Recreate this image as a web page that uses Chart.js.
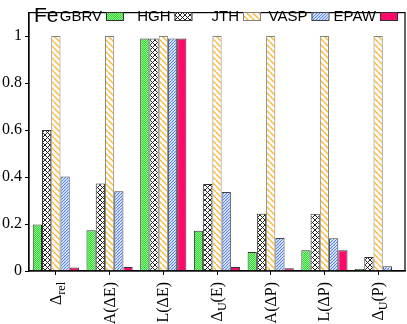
<!DOCTYPE html>
<html>
<head>
<meta charset="utf-8">
<script src="https://cdn.jsdelivr.net/npm/chart.js@4/dist/chart.umd.min.js"></script>
<style>
  html, body { margin: 0; padding: 0; background: #fff; }
  canvas { display: block; }
</style>
</head>
<body>
<canvas id="chart" width="407" height="324"></canvas>
<script>
// categories ("_xx" marks a subscript)
const categories = ['Δ_rel', 'A(ΔE)', 'L(ΔE)', 'Δ_U(E)', 'A(ΔP)', 'L(ΔP)', 'Δ_U(P)'];
const seriesNames = ['GBRV', 'HGH', 'JTH', 'VASP', 'EPAW'];

// values
const gbrv = [0.198, 0.174, 0.99, 0.171, 0.081, 0.088, 0.009];
const hgh  = [0.600, 0.373, 0.99, 0.370, 0.244, 0.244, 0.060];
const jth  = [1, 1, 1, 1, 1, 1, 1];
const vasp = [0.402, 0.340, 0.99, 0.336, 0.141, 0.139, 0.020];
const epaw = [0.015, 0.017, 0.99, 0.017, 0.012, 0.088, null];

const yTicks = [0, 0.2, 0.4, 0.6, 0.8, 1];

// ================================
// hatch patterns
// ================================
function makePattern(size, draw) {
    const c = document.createElement('canvas');
    c.width = size; c.height = size;
    const g = c.getContext('2d');
    draw(g, size);
    return g.createPattern(c, 'repeat');
}

function hatch(bg, color, s, dirs, lw) {
    return makePattern(s, function (g) {
        g.fillStyle = bg;
        g.fillRect(0, 0, s, s);
        g.strokeStyle = color;
        g.lineWidth = lw;
        g.beginPath();
        for (let k = -1; k <= 1; k++) {
            if (dirs.includes('\\')) { g.moveTo(k * s, 0); g.lineTo(k * s + s, s); }
            if (dirs.includes('/')) { g.moveTo(k * s, s); g.lineTo(k * s + s, 0); }
        }
        g.stroke();
    });
}

const greenDots = makePattern(2, function (g) {
    g.fillStyle = '#2ed82e';
    g.fillRect(0, 0, 2, 2);
    g.fillStyle = '#90f790';
    g.fillRect(0, 0, 1, 1);
    g.fillRect(1, 1, 1, 1);
});
const crossHatch = hatch('#ffffff', '#222222', 5, '\\/', 1);
const orangeHatch = hatch('#ffffff', '#ffb733', 6, '\\', 1.4);
const blueHatch = hatch('#ffffff', '#4f7ff0', 3, '/', 1.2);

const fills = [greenDots, crossHatch, orangeHatch, blueHatch, '#ff0a6a'];
const borders = ['#333333', '#333333', '#808080', '#444444', '#333333'];
const seriesValues = [gbrv, hgh, jth, vasp, epaw];

const serif = "'Liberation Serif', 'DejaVu Serif', serif";
const sans = "'Liberation Sans', Arial, sans-serif";

// ================================
// custom drawing: frame, legend, rotated x labels
// ================================
const extras = {
    id: 'extras',
    afterDraw(chart) {
        const ctx = chart.ctx;
        const area = chart.chartArea;
        ctx.save();

        // frame
        ctx.strokeStyle = '#000';
        ctx.lineWidth = 1.2;
        ctx.strokeRect(area.left, area.top, area.right - area.left, area.bottom - area.top);

        // legend: label then swatch
        ctx.font = '21px ' + sans;
        ctx.fillStyle = '#000';
        ctx.textAlign = 'left';
        ctx.textBaseline = 'alphabetic';
        ctx.fillText('Fe', 34, 22);
        ctx.font = '15px ' + sans;
        ctx.textAlign = 'right';
        chart.data.datasets.forEach(function (ds, i) {
            const sx = 106 + 68.5 * i;
            ctx.fillStyle = '#000';
            ctx.fillText(ds.label, sx - 4, 21);
            ctx.fillStyle = ds.backgroundColor;
            ctx.fillRect(sx, 12.5, 17, 8);
            ctx.strokeStyle = ds.borderColor;
            ctx.lineWidth = 1;
            ctx.strokeRect(sx + 0.5, 12.5, 17, 8);
        });

        // x labels, rotated, with subscripts
        const xs = chart.scales.x;
        ctx.fillStyle = '#000';
        categories.forEach(function (lab, i) {
            const px = xs.getPixelForValue(i);
            const parts = [];
            const m = lab.match(/^(.*?)_([A-Za-z]+)(.*)$/);
            if (m) {
                parts.push({ t: m[1], sub: false });
                parts.push({ t: m[2], sub: true });
                if (m[3]) parts.push({ t: m[3], sub: false });
            } else {
                parts.push({ t: lab, sub: false });
            }
            let total = 0;
            parts.forEach(function (p) {
                ctx.font = (p.sub ? '12px ' : '16px ') + serif;
                p.w = ctx.measureText(p.t).width;
                total += p.w;
            });
            ctx.save();
            ctx.translate(px + 5, area.bottom + 11);
            ctx.rotate(-Math.PI / 2);
            ctx.textAlign = 'left';
            let x = -total;
            parts.forEach(function (p) {
                ctx.font = (p.sub ? '12px ' : '16px ') + serif;
                ctx.fillText(p.t, x, p.sub ? 4 : 0);
                x += p.w;
            });
            ctx.restore();
        });

        ctx.restore();
    }
};

new Chart(document.getElementById('chart').getContext('2d'), {
    type: 'bar',
    data: {
        labels: categories,
        datasets: seriesNames.map(function (name, i) {
            return {
                label: name,
                data: seriesValues[i],
                backgroundColor: fills[i],
                borderColor: borders[i],
                borderWidth: 1,
                categoryPercentage: 0.86,
                barPercentage: 1.0
            };
        })
    },
    options: {
        responsive: false,
        animation: false,
        devicePixelRatio: 1,
        layout: { padding: { top: 1, right: 2, left: 0, bottom: 0 } },
        plugins: {
            legend: { display: false },
            tooltip: { enabled: false }
        },
        scales: {
            x: {
                offset: true,
                grid: { offset: false, drawOnChartArea: false, tickLength: 4, color: '#000' },
                border: { display: true, color: '#000', width: 1.2 },
                ticks: { display: false },
                afterFit: function (scale) { scale.height = 53; }
            },
            y: {
                min: 0,
                max: 1.1,
                grid: { drawOnChartArea: false, tickLength: 4, color: '#000' },
                border: { display: true, color: '#000', width: 1.2 },
                afterBuildTicks: function (scale) {
                    scale.ticks = yTicks.map(function (v) { return { value: v }; });
                },
                ticks: {
                    color: '#000',
                    padding: 3,
                    font: { family: serif, size: 16 },
                    callback: function (v) { return String(+v.toFixed(1)); }
                },
                afterFit: function (scale) { scale.width = 29; }
            }
        }
    },
    plugins: [extras]
});
</script>
</body>
</html>
